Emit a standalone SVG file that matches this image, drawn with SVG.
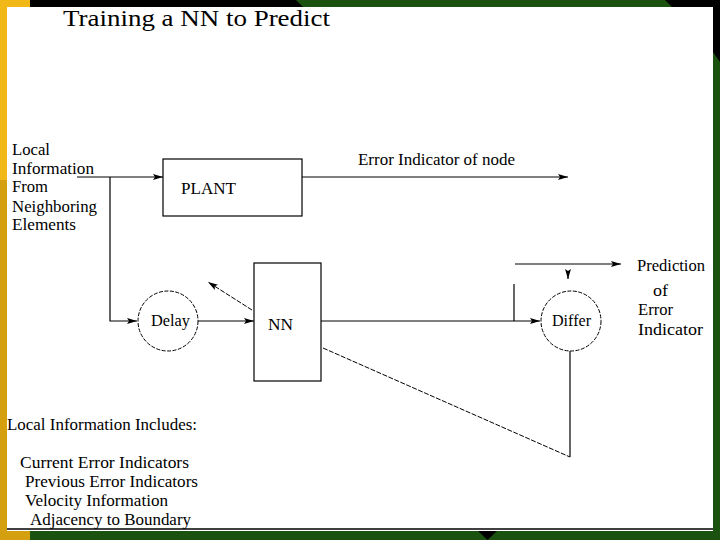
<svg xmlns="http://www.w3.org/2000/svg" width="720" height="540" viewBox="0 0 720 540">
<defs>
<marker id="ah" viewBox="0 0 10 6" refX="10" refY="3" markerWidth="10" markerHeight="6" markerUnits="userSpaceOnUse" orient="auto">
<path d="M0,0 L10,3 L0,6 L2,3 z" fill="#000"/>
</marker>
</defs>
<style>
text{font-family:"Liberation Serif","Times New Roman",serif;font-size:16px;fill:#000}
.title{font-size:24px}
.ln{stroke:#000;stroke-width:1.2;fill:none}
.dl{stroke:#000;stroke-width:1;fill:none;stroke-dasharray:5,1.5}
.box{stroke:#000;stroke-width:1.2;fill:#fff}
.circ{stroke:#000;stroke-width:1;fill:#fff;stroke-dasharray:4,1.5}
</style>
<g id="frame">
<rect x="0" y="0" width="720" height="540" fill="#fff"/>
<rect x="0" y="0" width="720" height="7" fill="#000"/>
<polygon points="296,0 665,0 672,7 303,7" fill="#1b520f"/>
<rect x="0" y="0" width="30" height="7" fill="#f2b817"/>
<rect x="0" y="0" width="7" height="180" fill="#f2b817"/>
<rect x="0" y="180" width="7" height="360" fill="#d4a010"/>
<rect x="713" y="0" width="7" height="540" fill="#1b520f"/>
<polygon points="713,0 720,0 720,62 713,52" fill="#000"/>
<rect x="0" y="531" width="720" height="9" fill="#1b520f"/>
<rect x="0" y="531" width="30" height="9" fill="#d4a010"/>
<polygon points="478,531 497,531 487.5,540" fill="#000"/>
<line x1="7" y1="529" x2="713" y2="529" stroke="#000" stroke-width="1.5"/>
</g>
<text class="title" x="63" y="26" textLength="267" lengthAdjust="spacingAndGlyphs">Training a NN to Predict</text>
<g id="connectors">
<line class="ln" x1="77" y1="177" x2="163" y2="177" marker-end="url(#ah)"/>
<polyline class="ln" points="110,177 110,321 137,321" marker-end="url(#ah)"/>
<line class="ln" x1="302" y1="177" x2="568" y2="177" marker-end="url(#ah)"/>
<line class="ln" x1="198" y1="321" x2="254" y2="321" marker-end="url(#ah)"/>
<line class="dl" x1="252" y1="310" x2="208" y2="282" marker-end="url(#ah)"/>
<line class="ln" x1="321" y1="321" x2="540" y2="321" marker-end="url(#ah)"/>
<line class="ln" x1="514" y1="284" x2="514" y2="321"/>
<line class="ln" x1="515" y1="264" x2="621" y2="264" marker-end="url(#ah)"/>
<line class="ln" x1="568" y1="271" x2="568" y2="279" stroke="none" marker-end="url(#ah)"/>
<polyline class="ln" points="570,351 570,457"/>
<line class="dl" x1="323" y1="348" x2="570" y2="457"/>
</g>
<g id="plant">
<rect class="box" x="163" y="159" width="139" height="57"/>
<text x="181" y="194" textLength="55" lengthAdjust="spacingAndGlyphs">PLANT</text>
</g>
<g id="delay">
<circle class="circ" cx="168" cy="321" r="30"/>
<text x="151" y="326" textLength="39" lengthAdjust="spacingAndGlyphs">Delay</text>
</g>
<g id="nn">
<rect class="box" x="254" y="263" width="67" height="118"/>
<text x="268" y="330" textLength="25" lengthAdjust="spacingAndGlyphs">NN</text>
</g>
<g id="differ">
<circle class="circ" cx="571" cy="321" r="30"/>
<text x="552" y="326" textLength="39" lengthAdjust="spacingAndGlyphs">Differ</text>
</g>
<g id="labels">
<text x="12" y="155" textLength="38" lengthAdjust="spacingAndGlyphs">Local</text>
<text x="12" y="174" textLength="82" lengthAdjust="spacingAndGlyphs">Information</text>
<text x="12" y="192" textLength="36" lengthAdjust="spacingAndGlyphs">From</text>
<text x="12" y="212" textLength="85" lengthAdjust="spacingAndGlyphs">Neighboring</text>
<text x="12" y="230" textLength="64" lengthAdjust="spacingAndGlyphs">Elements</text>
<text x="358" y="165" textLength="157" lengthAdjust="spacingAndGlyphs">Error Indicator of node</text>
<text x="637" y="271" textLength="68" lengthAdjust="spacingAndGlyphs">Prediction</text>
<text x="653" y="296" textLength="15" lengthAdjust="spacingAndGlyphs">of</text>
<text x="638" y="315" textLength="35" lengthAdjust="spacingAndGlyphs">Error</text>
<text x="638" y="335" textLength="65" lengthAdjust="spacingAndGlyphs">Indicator</text>
<text x="7" y="430" textLength="190" lengthAdjust="spacingAndGlyphs">Local Information Includes:</text>
<text x="20" y="468" textLength="169" lengthAdjust="spacingAndGlyphs">Current Error Indicators</text>
<text x="25" y="487" textLength="173" lengthAdjust="spacingAndGlyphs">Previous Error Indicators</text>
<text x="25" y="506" textLength="143" lengthAdjust="spacingAndGlyphs">Velocity Information</text>
<text x="30" y="525" textLength="161" lengthAdjust="spacingAndGlyphs">Adjacency to Boundary</text>
</g>
</svg>
